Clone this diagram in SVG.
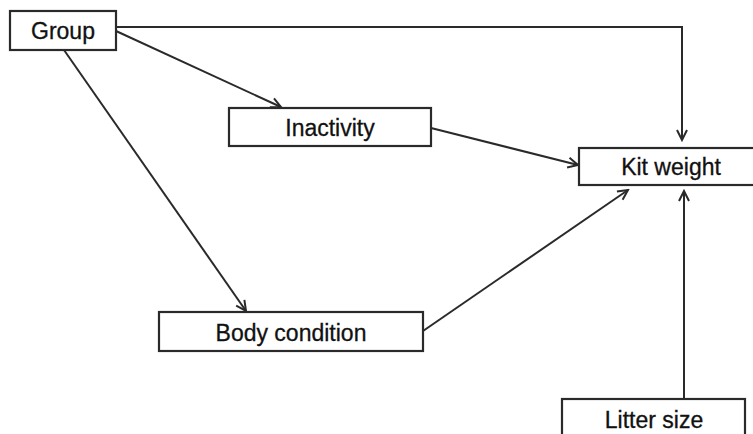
<svg xmlns="http://www.w3.org/2000/svg" width="753" height="434" viewBox="0 0 753 434">
<style>
.box{fill:#fff;stroke:#2a2a2a;stroke-width:2.2}
.lbl{font-family:"Liberation Sans",Arial,sans-serif;font-size:23px;fill:#111;stroke:#111;stroke-width:0.3;text-anchor:middle}
.edge{fill:none;stroke:#2a2a2a;stroke-width:2}
</style>
<defs>
<marker id="ah" markerUnits="userSpaceOnUse" markerWidth="14" markerHeight="14" viewBox="0 0 14 14" refX="12" refY="7" orient="auto">
<path d="M2,2 L12,7 L2,12" fill="none" stroke="#2a2a2a" stroke-width="2"/>
</marker>
</defs>
<rect width="753" height="434" fill="#fff"/>
<g id="connectors">
<polyline class="edge" points="116,27 682,27 682,140" marker-end="url(#ah)"/>
<line class="edge" x1="116" y1="31" x2="281" y2="107" marker-end="url(#ah)"/>
<line class="edge" x1="64" y1="50" x2="246" y2="311" marker-end="url(#ah)"/>
<line class="edge" x1="431" y1="128" x2="578" y2="165" marker-end="url(#ah)"/>
<line class="edge" x1="423" y1="331" x2="628" y2="190" marker-end="url(#ah)"/>
<line class="edge" x1="684" y1="399" x2="684" y2="191" marker-end="url(#ah)"/>
</g>
<g id="group">
<rect class="box" x="10" y="11" width="106" height="39"/>
<text class="lbl" x="63" y="39">Group</text>
</g>
<g id="inactivity">
<rect class="box" x="229" y="108" width="202" height="38"/>
<text class="lbl" x="330" y="136">Inactivity</text>
</g>
<g id="kit-weight">
<rect class="box" x="579" y="148" width="185" height="37"/>
<text class="lbl" x="671" y="175">Kit weight</text>
</g>
<g id="body-condition">
<rect class="box" x="159" y="312" width="264" height="39"/>
<text class="lbl" x="291" y="341">Body condition</text>
</g>
<g id="litter-size">
<rect class="box" x="562" y="399" width="183" height="45"/>
<text class="lbl" x="654" y="428">Litter size</text>
</g>
</svg>
